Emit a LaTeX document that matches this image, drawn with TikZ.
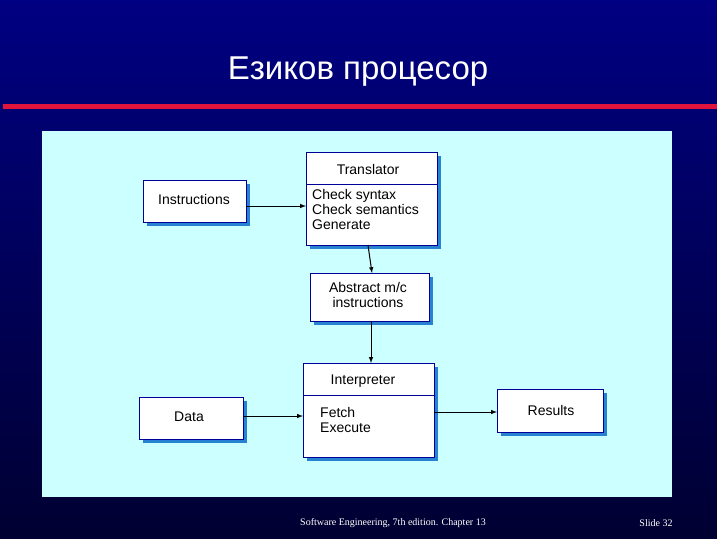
\documentclass[tikz,border=0pt]{standalone}
\usepackage{fontspec}
\setmainfont{Liberation Sans}
\newfontfamily\seriff{Liberation Serif}
\definecolor{panel}{RGB}{204,255,255}
\definecolor{bgtop}{RGB}{0,0,130}
\definecolor{bgbot}{RGB}{0,0,50}
\definecolor{shad}{RGB}{40,130,210}
\definecolor{redl}{RGB}{225,20,60}
\begin{document}
\begin{tikzpicture}[x=1pt,y=-1pt,
  box/.style={draw=blue!60!black,line width=0.8pt,fill=white},
  shadow/.style={fill=shad,draw=none},
  lbl/.style={font=\fontsize{14}{15}\selectfont,align=left,inner sep=0pt},
  arr/.style={-latex,line width=1pt}]
\useasboundingbox (0,0) rectangle (717,538);
\shade[top color=bgtop,bottom color=bgbot] (0,0) rectangle (717,538);
\fill[redl] (3,104) rectangle (717,109);
\node[white,font=\fontsize{33}{36}\selectfont] (title) at (358,72) {Езиков процесор};
\fill[panel] (42,131) rectangle (672,497);
\foreach \a/\b/\c/\d in {306/152/437/245,143/180/246/222,310/273/429/321,303/363/434/457,139/397/243/439,497/389/603/432}
  \fill[shadow] (\a+4,\b+4) rectangle (\c+4,\d+4);
\draw[box] (306,152) rectangle (437,245); \draw[box] (306,184) -- (437,184);
\draw[box] (143,180) rectangle (246,222);
\draw[box] (310,273) rectangle (429,321);
\draw[box] (303,363) rectangle (434,457); \draw[box] (303,395) -- (434,395);
\draw[box] (139,397) rectangle (243,439);
\draw[box] (497,389) rectangle (603,432);
\node[lbl] (tr) at (368,169) {Translator};
\node[lbl,anchor=north west] (ck) at (312,189) {Check syntax\\Check semantics\\Generate};
\node[lbl] (ins) at (194,199) {Instructions};
\node[lbl,align=center] (abs) at (368,295) {Abstract m/c\\instructions};
\node[lbl] (int) at (363,381) {Interpreter};
\node[lbl,anchor=north west] (fe) at (320,407) {Fetch\\Execute};
\node[lbl] (dat) at (189,417) {Data};
\node[lbl] (res) at (551,410) {Results};
\coordinate (a1) at (246,206); \coordinate (a2) at (306,206);
\coordinate (b1) at (368,245); \coordinate (b2) at (372,273);
\coordinate (c1) at (371,321); \coordinate (c2) at (371,363);
\coordinate (d1) at (243,416); \coordinate (d2) at (303,416);
\coordinate (e1) at (434,412); \coordinate (e2) at (497,412);
\draw[arr] (a1) -- (a2); \draw[arr] (b1) -- (b2); \draw[arr] (c1) -- (c2);
\draw[arr] (d1) -- (d2); \draw[arr] (e1) -- (e2);
\node[white,font=\seriff\fontsize{10}{11}\selectfont] (foot) at (393,523) {Software Engineering, 7th edition. Chapter 13};
\node[white,font=\seriff\fontsize{10}{11}\selectfont] (slide) at (656,523) {Slide 32};
\end{tikzpicture}
\end{document}
